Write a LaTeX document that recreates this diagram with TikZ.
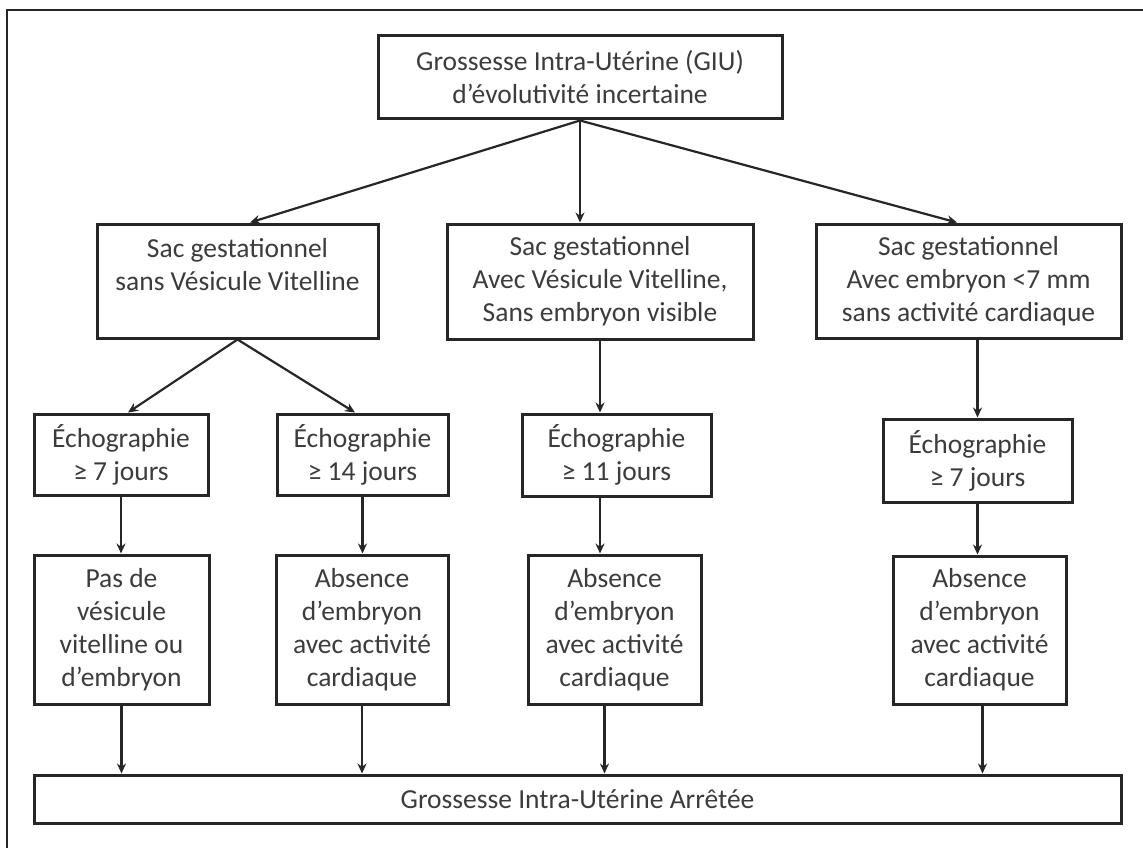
\documentclass[tikz,border=0pt]{standalone}
\usepackage{fontspec}
\setmainfont{Carlito}
\usetikzlibrary{arrows.meta}
\definecolor{ink}{HTML}{262626}
\definecolor{txt}{HTML}{3C3C3C}
\begin{document}
\begin{tikzpicture}[x=1pt,y=-1pt,
  box/.style={draw=ink, line width=3pt, inner sep=0pt, align=center, text=txt,
    font=\fontsize{27.5}{33}\selectfont},
  arr/.style={draw=ink, line width=2.2pt, -{Stealth[length=10pt,width=9pt]}}]
\useasboundingbox[fill=white] (0,0) rectangle (1143,848);
\draw[ink, line width=2pt] (7,848) -- (7,10) -- (1143,10);

% top
\node[box, minimum width=404pt, minimum height=83pt] (top) at (580,77.5)
  {Grossesse Intra-Utérine (GIU)\\d’évolutivité incertaine};
% row 2
\node[box, minimum width=281pt, minimum height=114pt] (A) at (237.5,281)
  {Sac gestationnel\\sans Vésicule Vitelline\\\mbox{}};
\node[box, minimum width=306pt, minimum height=115pt] (B) at (600,281.5)
  {Sac gestationnel\\Avec Vésicule Vitelline,\\Sans embryon visible};
\node[box, minimum width=305pt, minimum height=114pt] (C) at (968.5,281)
  {Sac gestationnel\\Avec embryon <7 mm\\sans activité cardiaque};
% row 3
\node[box, minimum width=174pt, minimum height=81pt] (E1) at (121,454.5)
  {Échographie\\≥ 7 jours};
\node[box, minimum width=171pt, minimum height=81pt] (E2) at (362.5,454.5)
  {Échographie\\≥ 14 jours};
\node[box, minimum width=189pt, minimum height=82pt] (E3) at (616.5,455)
  {Échographie\\≥ 11 jours};
\node[box, minimum width=189pt, minimum height=83pt] (E4) at (977.5,460.5)
  {Échographie\\≥ 7 jours};
% row 4
\node[box, minimum width=175pt, minimum height=149pt] (R1) at (121.5,629.5)
  {Pas de\\vésicule\\vitelline ou\\d’embryon};
\node[box, minimum width=172pt, minimum height=149pt] (R2) at (362,629.5)
  {Absence\\d’embryon\\avec activité\\cardiaque};
\node[box, minimum width=173pt, minimum height=149pt] (R3) at (614.5,629.5)
  {Absence\\d’embryon\\avec activité\\cardiaque};
\node[box, minimum width=173pt, minimum height=148pt] (R4) at (979.5,630)
  {Absence\\d’embryon\\avec activité\\cardiaque};
% bottom
\node[box, minimum width=1087pt, minimum height=48pt] (bot) at (577.5,799)
  {Grossesse Intra-Utérine Arrêtée};

% arrows
\draw[arr] (top.south) -- ([xshift=12.5pt]A.north);
\draw[arr] (top.south) -- (top.south |- B.north);
\draw[arr] (top.south) -- ([xshift=-11.5pt]C.north);
\draw[arr] (A.south) -- ([xshift=7pt]E1.north);
\draw[arr] (A.south) -- ([xshift=-7.5pt]E2.north);
\draw[arr] (B.south) -- (B.south |- E3.north);
\draw[arr] (E4.north |- C.south) -- (E4.north);
\draw[arr] (E1.south) -- (E1.south |- R1.north);
\draw[arr] (E2.south) -- (E2.south |- R2.north);
\draw[arr] (B.south |- E3.south) -- (B.south |- R3.north);
\draw[arr] (E4.south) -- (E4.south |- R4.north);
\draw[arr] (R1.south) -- (R1.south |- bot.north);
\draw[arr] (R2.south) -- (R2.south |- bot.north);
\draw[arr] ([xshift=-10pt]R3.south) -- ([xshift=-10pt]R3.south |- bot.north);
\draw[arr] ([xshift=3pt]R4.south) -- ([xshift=3pt]R4.south |- bot.north);
\end{tikzpicture}
\end{document}
